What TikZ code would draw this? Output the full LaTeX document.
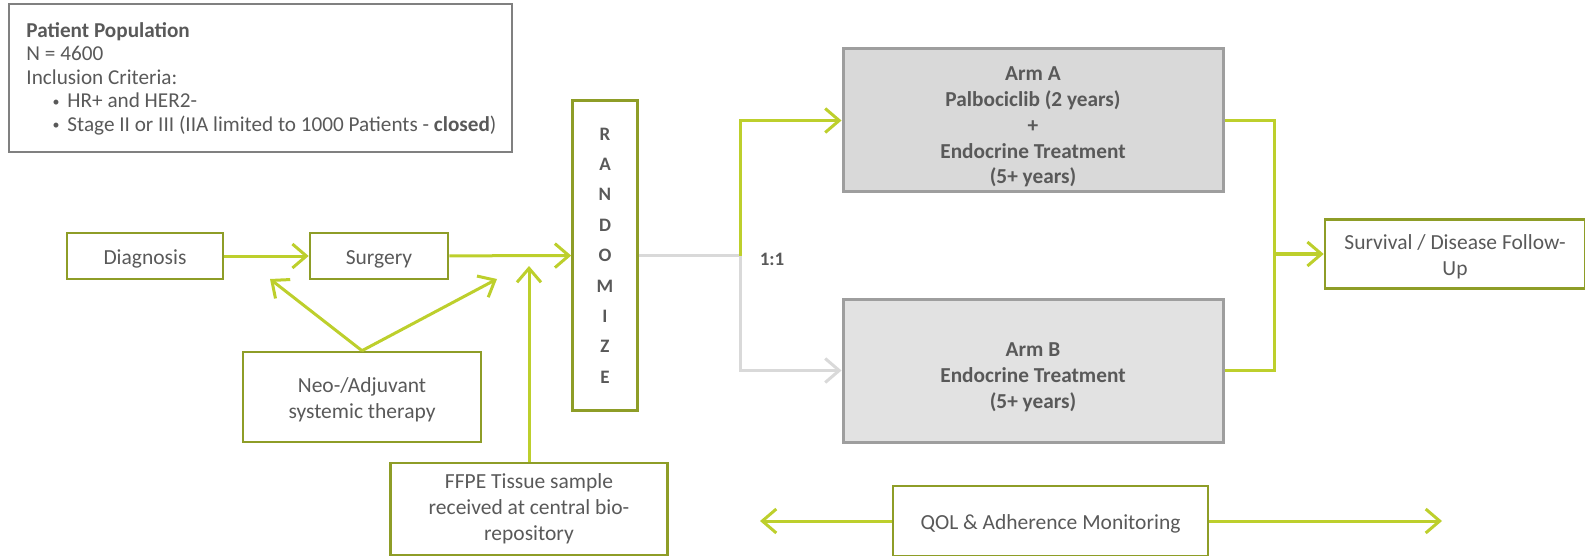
\documentclass[tikz,border=0pt]{standalone}
\usepackage{fontspec}
\setmainfont{Carlito}
\usetikzlibrary{arrows.meta}
\definecolor{boxgreen}{HTML}{8E9D27}
\definecolor{arrgreen}{HTML}{BDCF2C}
\definecolor{armgray}{HTML}{9E9E9E}
\definecolor{fillA}{HTML}{D9D9D9}
\definecolor{fillB}{HTML}{E2E2E2}
\definecolor{txtgray}{HTML}{595959}
\definecolor{linegray}{HTML}{D9D9D9}
\definecolor{popgray}{HTML}{808080}

\newcommand{\popbullet}{\hspace*{26pt}\raisebox{1.5pt}{\fontsize{14}{14}\selectfont\textbullet}\hspace{8pt}}

\tikzset{
  gboxplain/.style={draw=boxgreen, line width=2.6pt, inner sep=0pt, align=flush center, text=txtgray, font=\fontsize{21.5}{26}\selectfont},
  gbox/.style={gboxplain, execute at begin node={\rule{0pt}{21pt}}},
  armbox/.style={draw=armgray, line width=3pt, inner sep=0pt, align=flush center, text width=370, text=txtgray, font=\fontsize{21.3}{25.7}\selectfont\bfseries, minimum width=380, minimum height=143, execute at begin node={\rule{0pt}{27pt}}},
  garr/.style={draw=arrgreen, line width=3pt, -{Straight Barb[length=14pt,width=24pt]}},
  grarr/.style={draw=linegray, line width=3pt, -{Straight Barb[length=14pt,width=24pt]}}
}

\begin{document}
\begin{tikzpicture}[x=1pt,y=-1pt]
\useasboundingbox (0,0) rectangle (1585,556);

\node (pop) at (260,78.5) [draw=popgray, line width=2pt, minimum width=503, minimum height=148, inner sep=0pt, text width=467, align=flush left, text=txtgray, font=\fontsize{21.2}{23.5}\selectfont]
  {\textbf{Patient Population}\\N = 4600\\Inclusion Criteria:\\
   \popbullet HR+ and HER2-\\
   \mbox{\popbullet Stage II or III (IIA limited to 1000 Patients - \textbf{closed})}};

\node (diag) at (145,256) [gbox, minimum width=156, minimum height=46] {Diagnosis};
\node (surg) at (379,256) [gbox, minimum width=138, minimum height=46] {Surgery};
\node (neo) at (362,397) [gbox, minimum width=238, minimum height=90, text width=230] {Neo-/Adjuvant\\systemic therapy};
\node (rand) at (605,255.5) [draw=boxgreen, line width=2.6pt, inner sep=0pt, align=center, text=txtgray, minimum width=65, minimum height=310, font=\fontsize{19}{30.4}\selectfont\bfseries] {R\\A\\N\\D\\O\\M\\I\\Z\\E};
\node (ffpe) at (529,509) [gboxplain, minimum width=277, minimum height=92, text width=270] {FFPE Tissue sample\\received at central bio-\\repository};
\node (armA) at (1033,120.5) [armbox, fill=fillA] {Arm A\\Palbociclib (2 years)\\+\\Endocrine Treatment\\(5+ years)};
\node (armB) at (1033,370.5) [armbox, fill=fillB] {Arm B\\Endocrine Treatment\\(5+ years)};
\node (surv) at (1455,254) [gbox, minimum width=260, minimum height=69, text width=255] {Survival / Disease Follow-\\Up};
\node (qol) at (1050.5,521) [gbox, minimum width=315, minimum height=70] {QOL \& Adherence Monitoring};
\node (ratio) at (772,259) [text=txtgray, font=\fontsize{19}{23}\selectfont\bfseries] {1:1};

\coordinate (split) at (740,255.5);
\coordinate (merge) at (1274,254);
\coordinate (neoL) at (270,279);
\coordinate (neoR) at (497,279);
\coordinate (ffpeT) at (529,266);
\coordinate (qolL) at (760,521);
\coordinate (qolR) at (1442,521);

\draw [garr] (diag) -- (surg);
\draw [garr] (surg) -- (rand);
\draw [garr] (neo.north) -- (neoL);
\draw [garr] (neo.north) -- (neoR);
\draw [garr] (ffpe.north) -- (ffpeT);
\draw [draw=linegray, line width=3pt] (rand.east |- split) -- (split);
\draw [garr] (split) |- (armA.west);
\draw [grarr] (split) |- (armB.west);
\draw [draw=arrgreen, line width=3pt] (armA.east) -| (merge) |- (armB.east);
\draw [garr] (merge) -- (surv);
\draw [garr] (qol) -- (qolL);
\draw [garr] (qol) -- (qolR);
\end{tikzpicture}
\end{document}
